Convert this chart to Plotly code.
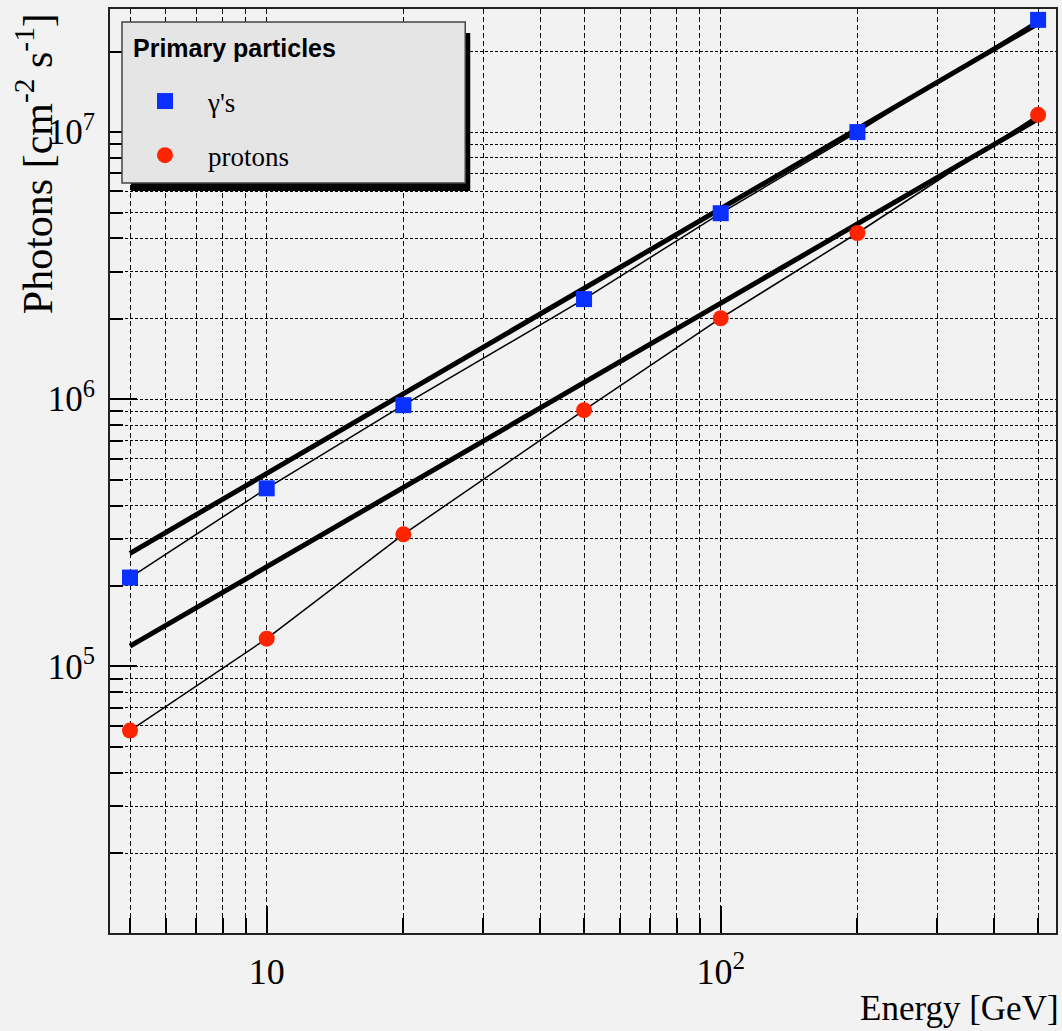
import plotly.graph_objects as go

# ---- data ----
energy = [5, 10, 20, 50, 100, 200, 500]
gamma_photons = [2.15e5, 4.64e5, 9.5e5, 2.37e6, 4.97e6, 1.0e7, 2.63e7]
proton_photons = [5.75e4, 1.27e5, 3.12e5, 9.1e5, 2.01e6, 4.19e6, 1.16e7]

fit_energy = [5, 500]
gamma_fit = [2.65e5, 2.55e7]
proton_fit = [1.19e5, 1.12e7]

x_major = [10, 100]
x_major_text = ["10", "10<sup>2</sup>"]
x_minor = [5, 6, 7, 8, 9, 20, 30, 40, 50, 60, 70, 80, 90, 200, 300, 400, 500]
y_major = [1e5, 1e6, 1e7]
y_major_text = ["10<sup>5</sup>", "10<sup>6</sup>", "10<sup>7</sup>"]
y_minor = [k * 10 ** e for e in (4, 5, 6) for k in range(2, 10)] + [2e7]

# ---- layout geometry (pixels) ----
W, H = 1062, 1031
ML, MR, MT, MB = 110, 4, 9, 98
PW, PH = W - ML - MR, H - MT - MB


def px(x):
    return (x - ML) / PW


def py(y):
    return 1 - (y - MT) / PH


SERIF = "Liberation Serif, Times New Roman, serif"
SANS = "Liberation Sans, Arial, sans-serif"
BG = "#f2f2f2"
BLUE = "#0a30ff"
RED = "#ff2400"

fig = go.Figure()

# thick fit lines
fig.add_trace(go.Scatter(x=fit_energy, y=gamma_fit, mode="lines",
                         line=dict(color="black", width=5), showlegend=False))
fig.add_trace(go.Scatter(x=fit_energy, y=proton_fit, mode="lines",
                         line=dict(color="black", width=5), showlegend=False))
# thin connecting lines
fig.add_trace(go.Scatter(x=energy, y=gamma_photons, mode="lines",
                         line=dict(color="black", width=1.5), showlegend=False))
fig.add_trace(go.Scatter(x=energy, y=proton_photons, mode="lines",
                         line=dict(color="black", width=1.5), showlegend=False))
# markers
fig.add_trace(go.Scatter(x=energy, y=gamma_photons, mode="markers", name="γ's",
                         legendgroup="g",
                         marker=dict(symbol="square", size=16, color=BLUE,
                                     line=dict(width=0))))
fig.add_trace(go.Scatter(x=energy, y=proton_photons, mode="markers", name="protons",
                         legendgroup="p",
                         marker=dict(symbol="circle", size=16, color=RED,
                                     line=dict(width=0))))

fig.update_xaxes(
    type="log", range=[0.6549, 2.7384],
    tickmode="array", tickvals=x_major, ticktext=x_major_text,
    ticks="inside", ticklen=27, tickwidth=1.5, tickcolor="black",
    showline=True, linecolor="#222", linewidth=2, mirror=True,
    tickfont=dict(family=SERIF, size=36, color="black"),
    ticklabelstandoff=6,
    showgrid=True, gridcolor="black", gridwidth=1, griddash="5px,3px",
    minor=dict(tickvals=x_minor, ticks="inside", ticklen=15, tickwidth=1.5,
               tickcolor="black", showgrid=True, gridcolor="black",
               gridwidth=1, griddash="5px,3px"),
    zeroline=False,
)
fig.update_yaxes(
    type="log", range=[4.002, 7.4607],
    tickmode="array", tickvals=y_major, ticktext=y_major_text,
    ticks="inside", ticklen=27, tickwidth=1.5, tickcolor="black",
    showline=True, linecolor="#222", linewidth=2, mirror=True,
    tickfont=dict(family=SERIF, size=35, color="black"),
    ticklabelstandoff=6,
    showgrid=True, gridcolor="black", gridwidth=1, griddash="3px,2px",
    minor=dict(tickvals=y_minor, ticks="inside", ticklen=13, tickwidth=1.5,
               tickcolor="black", showgrid=True, gridcolor="black",
               gridwidth=1, griddash="3px,2px"),
    zeroline=False,
)

# legend box with shadow
shapes = [
    dict(type="rect", xref="paper", yref="paper", layer="above",
         x0=px(131), x1=px(471), y0=py(191), y1=py(33),
         fillcolor="black", line=dict(width=0)),
    dict(type="rect", xref="paper", yref="paper", layer="above",
         x0=px(122), x1=px(466), y0=py(183), y1=py(22),
         fillcolor="#e5e5e5", line=dict(color="#444", width=1.5)),
]

annotations = [
    dict(text="<b>Primary particles</b>", xref="paper", yref="paper",
         x=px(131), y=py(48), xanchor="left", yanchor="middle", showarrow=False,
         font=dict(family=SANS, size=25, color="black")),
    dict(text="Energy [GeV]", xref="paper", yref="paper", x=px(1056), y=py(1008),
         xanchor="right", yanchor="middle", showarrow=False, xshift=7,
         font=dict(family=SERIF, size=35, color="black")),
    dict(text="Photons [cm<sup>-2</sup> s<sup>-1</sup>]", xref="paper", yref="paper",
         x=px(34), y=py(164), xanchor="center", yanchor="middle", textangle=-90,
         showarrow=False, font=dict(family=SERIF, size=42, color="black")),
]

fig.update_layout(
    width=W, height=H,
    margin=dict(l=ML, r=MR, t=MT, b=MB, pad=0),
    paper_bgcolor=BG, plot_bgcolor=BG,
    shapes=shapes, annotations=annotations,
    showlegend=True,
    legend=dict(
        x=px(122), y=py(77), xanchor="left", yanchor="top",
        bgcolor="rgba(0,0,0,0)", borderwidth=0,
        itemwidth=76, tracegroupgap=16,
        font=dict(family=SERIF, size=27, color="black"),
    ),
)

fig.write_html(
    "out.html",
    config={"displayModeBar": False},
    post_script="document.body.style.margin='0';document.body.style.background='#f2f2f2';",
)
